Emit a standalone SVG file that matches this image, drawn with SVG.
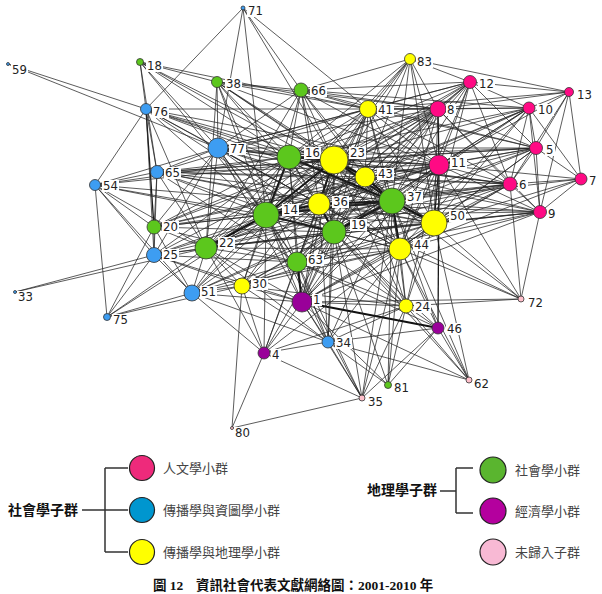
<svg xmlns="http://www.w3.org/2000/svg" width="602" height="594" viewBox="0 0 602 594">
<style>
#edges path{stroke:#262626;stroke-width:.75;fill:none}
#edges path.t{stroke:#111;stroke-width:2}
#edges path.m{stroke:#1a1a1a;stroke-width:1.3}
.nd circle{stroke:#333;stroke-width:.8}
.hu{fill:#ff0a84}.co{fill:#3d9df2}.cg{fill:#ffff00}.so{fill:#5cc71d}.ec{fill:#990099}.un{fill:#ffc0cb}
.nd rect{fill:#fff}
.nd text{font-family:"DejaVu Sans Condensed","DejaVu Sans",sans-serif;font-stretch:condensed;font-size:13px;fill:#222}
.lg circle{stroke:#222;stroke-width:1.2}
.lg path{stroke:#333;stroke-width:1.5;fill:none}
.lt{font-family:"Liberation Serif","Noto Sans CJK TC",serif;font-size:13px;fill:#444}
.lb{font-family:"Liberation Serif","Noto Sans CJK TC",serif;font-size:14px;font-weight:bold;fill:#111}
.cap{font-family:"Liberation Serif","Noto Sans CJK TC",serif;font-size:13.5px;font-weight:bold;fill:#111}
</style>
<g id="edges">
<path class="t" d="M266 215L289 157"/><path class="t" d="M266 215L334 232"/><path class="t" d="M266 215L206 248"/><path class="t" d="M266 215L334 160"/><path class="t" d="M266 215L319 204"/><path class="t" d="M266 215L392 201"/><path d="M266 215L365 177"/><path d="M266 215L400 249"/><path d="M266 215L434 223"/><path d="M266 215L297 262"/><path d="M266 215L302 302"/><path d="M266 215L439 165"/><path d="M266 215L218 148"/><path d="M266 215L368 109"/><path d="M266 215L438 109"/>
<path d="M289 157L334 232"/><path d="M289 157L206 248"/><path class="t" d="M289 157L334 160"/><path d="M289 157L319 204"/><path class="t" d="M289 157L392 201"/><path d="M289 157L365 177"/><path d="M289 157L400 249"/><path d="M289 157L434 223"/><path d="M289 157L297 262"/><path d="M289 157L302 302"/><path d="M289 157L439 165"/><path d="M289 157L218 148"/><path d="M289 157L368 109"/><path d="M289 157L438 109"/>
<path d="M334 232L206 248"/><path d="M334 232L334 160"/><path class="t" d="M334 232L319 204"/><path class="t" d="M334 232L392 201"/><path d="M334 232L365 177"/><path d="M334 232L400 249"/><path d="M334 232L434 223"/><path d="M334 232L297 262"/><path d="M334 232L302 302"/><path d="M334 232L439 165"/><path d="M334 232L218 148"/><path d="M334 232L368 109"/><path d="M334 232L438 109"/>
<path d="M206 248L334 160"/><path d="M206 248L319 204"/><path d="M206 248L392 201"/><path d="M206 248L365 177"/><path d="M206 248L400 249"/><path d="M206 248L434 223"/><path d="M206 248L297 262"/><path d="M206 248L302 302"/><path d="M206 248L439 165"/><path d="M206 248L218 148"/><path d="M206 248L368 109"/><path d="M206 248L438 109"/>
<path class="t" d="M334 160L319 204"/><path class="t" d="M334 160L392 201"/><path class="t" d="M334 160L365 177"/><path d="M334 160L400 249"/><path d="M334 160L434 223"/><path d="M334 160L297 262"/><path d="M334 160L302 302"/><path d="M334 160L439 165"/><path d="M334 160L218 148"/><path d="M334 160L368 109"/><path d="M334 160L438 109"/>
<path class="t" d="M319 204L392 201"/><path d="M319 204L365 177"/><path d="M319 204L400 249"/><path d="M319 204L434 223"/><path d="M319 204L297 262"/><path d="M319 204L302 302"/><path d="M319 204L439 165"/><path d="M319 204L218 148"/><path d="M319 204L368 109"/><path d="M319 204L438 109"/>
<path class="t" d="M392 201L365 177"/><path class="t" d="M392 201L400 249"/><path class="t" d="M392 201L434 223"/><path d="M392 201L297 262"/><path d="M392 201L302 302"/><path d="M392 201L439 165"/><path d="M392 201L218 148"/><path d="M392 201L368 109"/><path d="M392 201L438 109"/>
<path d="M365 177L400 249"/><path d="M365 177L434 223"/><path d="M365 177L297 262"/><path d="M365 177L302 302"/><path d="M365 177L439 165"/><path d="M365 177L218 148"/><path d="M365 177L368 109"/><path d="M365 177L438 109"/>
<path d="M400 249L434 223"/><path d="M400 249L297 262"/><path d="M400 249L302 302"/><path d="M400 249L439 165"/><path d="M400 249L218 148"/><path d="M400 249L368 109"/><path d="M400 249L438 109"/>
<path d="M434 223L297 262"/><path d="M434 223L302 302"/><path class="m" d="M434 223L439 165"/><path d="M434 223L218 148"/><path d="M434 223L368 109"/><path d="M434 223L438 109"/>
<path class="t" d="M297 262L302 302"/><path d="M297 262L439 165"/><path d="M297 262L218 148"/><path d="M297 262L368 109"/><path d="M297 262L438 109"/>
<path d="M302 302L439 165"/><path d="M302 302L218 148"/><path d="M302 302L368 109"/><path d="M302 302L438 109"/>
<path d="M439 165L218 148"/><path d="M439 165L368 109"/><path class="m" d="M439 165L438 109"/><path class="m" d="M439 165L438 328"/>
<path d="M218 148L368 109"/><path d="M218 148L438 109"/><path d="M368 109L438 109"/>
<path d="M470 82L438 109"/><path d="M470 82L439 165"/><path d="M470 82L368 109"/><path d="M470 82L334 160"/><path d="M470 82L289 157"/><path d="M470 82L392 201"/><path d="M470 82L365 177"/><path d="M470 82L434 223"/><path d="M470 82L510 184"/><path d="M470 82L536 148"/><path d="M470 82L529 108"/><path d="M470 82L569 92"/><path d="M470 82L410 59"/><path d="M470 82L301 90"/><path d="M470 82L319 204"/><path d="M470 82L400 249"/><path d="M470 82L334 232"/><path d="M470 82L266 215"/><path d="M470 82L218 148"/>
<path d="M569 92L410 59"/><path d="M569 92L529 108"/><path d="M569 92L536 148"/><path d="M569 92L581 179"/><path d="M569 92L438 109"/><path d="M569 92L439 165"/><path d="M569 92L510 184"/><path d="M569 92L540 212"/><path d="M569 92L368 109"/>
<path d="M529 108L438 109"/><path d="M529 108L439 165"/><path d="M529 108L536 148"/><path d="M529 108L510 184"/><path d="M529 108L540 212"/><path d="M529 108L581 179"/><path d="M529 108L392 201"/><path d="M529 108L365 177"/><path d="M529 108L334 160"/><path d="M529 108L434 223"/><path d="M529 108L400 249"/><path d="M529 108L289 157"/><path d="M529 108L319 204"/><path d="M529 108L368 109"/><path d="M529 108L334 232"/><path d="M529 108L266 215"/><path d="M529 108L301 90"/>
<path d="M536 148L438 109"/><path d="M536 148L439 165"/><path d="M536 148L510 184"/><path d="M536 148L581 179"/><path d="M536 148L540 212"/><path d="M536 148L392 201"/><path d="M536 148L434 223"/><path d="M536 148L365 177"/><path d="M536 148L334 160"/><path d="M536 148L400 249"/><path d="M536 148L319 204"/><path d="M536 148L289 157"/><path d="M536 148L368 109"/><path d="M536 148L218 148"/><path d="M536 148L334 232"/><path d="M536 148L301 90"/>
<path d="M510 184L439 165"/><path d="M510 184L438 109"/><path d="M510 184L581 179"/><path d="M510 184L540 212"/><path d="M510 184L392 201"/><path d="M510 184L434 223"/><path d="M510 184L400 249"/><path d="M510 184L365 177"/><path d="M510 184L334 160"/><path d="M510 184L319 204"/><path d="M510 184L334 232"/><path d="M510 184L266 215"/><path d="M510 184L521 299"/><path d="M510 184L368 109"/><path d="M510 184L218 148"/><path d="M510 184L206 248"/><path d="M510 184L297 262"/><path d="M510 184L302 302"/><path d="M510 184L289 157"/>
<path d="M581 179L540 212"/><path d="M581 179L434 223"/><path d="M581 179L392 201"/><path d="M581 179L400 249"/><path d="M581 179L439 165"/>
<path d="M540 212L434 223"/><path d="M540 212L392 201"/><path d="M540 212L400 249"/><path d="M540 212L521 299"/><path d="M540 212L365 177"/><path d="M540 212L319 204"/><path d="M540 212L334 232"/><path d="M540 212L334 160"/><path d="M540 212L439 165"/><path d="M540 212L438 109"/><path d="M540 212L266 215"/><path d="M540 212L206 248"/><path d="M540 212L302 302"/><path d="M540 212L297 262"/>
<path d="M410 59L301 90"/><path d="M410 59L368 109"/><path d="M410 59L438 109"/><path d="M410 59L439 165"/><path d="M410 59L334 160"/><path d="M410 59L289 157"/><path d="M410 59L365 177"/><path d="M410 59L392 201"/><path d="M410 59L319 204"/><path d="M410 59L434 223"/><path d="M410 59L266 215"/>
<path d="M301 90L217 82"/><path d="M301 90L289 157"/><path d="M301 90L334 160"/><path d="M301 90L266 215"/><path d="M301 90L368 109"/><path d="M301 90L218 148"/><path d="M301 90L392 201"/><path d="M301 90L365 177"/><path d="M301 90L319 204"/><path d="M301 90L334 232"/><path d="M301 90L206 248"/><path d="M301 90L438 109"/><path d="M301 90L439 165"/>
<path d="M217 82L140 62"/><path d="M217 82L218 148"/><path d="M217 82L266 215"/><path d="M217 82L289 157"/><path d="M217 82L334 160"/><path d="M217 82L368 109"/><path d="M217 82L392 201"/><path d="M217 82L206 248"/><path d="M217 82L365 177"/><path d="M217 82L319 204"/><path d="M217 82L297 262"/><path d="M217 82L438 109"/><path d="M217 82L439 165"/>
<path d="M243 8L146 109"/><path d="M243 8L218 148"/><path d="M243 8L266 215"/><path d="M243 8L301 90"/><path d="M243 8L334 160"/><path d="M243 8L368 109"/>
<path d="M140 62L146 109"/><path d="M140 62L157 172"/><path d="M140 62L289 157"/><path d="M140 62L334 160"/><path d="M140 62L266 215"/><path d="M140 62L368 109"/><path d="M140 62L218 148"/><path d="M140 62L392 201"/>
<path d="M8 64L146 109"/><path d="M8 64L218 148"/>
<path d="M146 109L218 148"/><path d="M146 109L157 172"/><path class="m" d="M146 109L154 227"/><path d="M146 109L154 255"/><path d="M146 109L95 185"/><path d="M146 109L266 215"/><path d="M146 109L289 157"/><path d="M146 109L206 248"/><path d="M146 109L334 160"/><path d="M146 109L392 201"/><path d="M146 109L319 204"/><path d="M146 109L334 232"/><path d="M146 109L365 177"/><path d="M146 109L439 165"/><path d="M146 109L438 109"/>
<path d="M95 185L157 172"/><path d="M95 185L218 148"/><path d="M95 185L154 227"/><path d="M95 185L154 255"/><path d="M95 185L107 317"/><path d="M95 185L266 215"/><path d="M95 185L206 248"/><path d="M95 185L289 157"/><path d="M95 185L192 293"/><path d="M95 185L334 160"/><path d="M95 185L334 232"/><path d="M95 185L319 204"/>
<path d="M157 172L218 148"/><path d="M157 172L154 227"/><path d="M157 172L154 255"/><path d="M157 172L266 215"/><path d="M157 172L289 157"/><path d="M157 172L206 248"/><path d="M157 172L334 160"/><path d="M157 172L392 201"/><path d="M157 172L319 204"/><path d="M157 172L334 232"/><path d="M157 172L365 177"/><path d="M157 172L297 262"/><path d="M157 172L434 223"/><path d="M157 172L439 165"/><path d="M157 172L368 109"/><path d="M157 172L510 184"/><path d="M157 172L536 148"/>
<path d="M154 227L154 255"/><path d="M154 227L206 248"/><path d="M154 227L266 215"/><path d="M154 227L289 157"/><path d="M154 227L334 160"/><path d="M154 227L392 201"/><path d="M154 227L319 204"/><path d="M154 227L334 232"/><path d="M154 227L218 148"/><path d="M154 227L297 262"/><path d="M154 227L192 293"/><path d="M154 227L365 177"/><path d="M154 227L439 165"/><path d="M154 227L438 109"/>
<path d="M154 255L206 248"/><path d="M154 255L192 293"/><path d="M154 255L266 215"/><path d="M154 255L289 157"/><path d="M154 255L334 160"/><path d="M154 255L392 201"/><path d="M154 255L334 232"/><path d="M154 255L319 204"/><path d="M154 255L297 262"/><path d="M154 255L242 286"/><path d="M154 255L302 302"/><path d="M154 255L218 148"/>
<path d="M15 292L154 255"/><path d="M15 292L206 248"/>
<path d="M107 317L154 255"/><path d="M107 317L154 227"/><path d="M107 317L206 248"/><path d="M107 317L192 293"/><path d="M107 317L266 215"/><path d="M107 317L242 286"/>
<path d="M192 293L206 248"/><path d="M192 293L242 286"/><path d="M192 293L266 215"/><path d="M192 293L334 232"/><path d="M192 293L297 262"/><path d="M192 293L302 302"/><path d="M192 293L319 204"/><path d="M192 293L392 201"/><path d="M192 293L334 160"/><path d="M192 293L264 353"/><path d="M192 293L328 342"/><path d="M192 293L400 249"/><path d="M192 293L289 157"/>
<path d="M242 286L206 248"/><path d="M242 286L297 262"/><path d="M242 286L302 302"/><path d="M242 286L266 215"/><path d="M242 286L334 232"/><path d="M242 286L319 204"/><path d="M242 286L392 201"/><path d="M242 286L334 160"/><path d="M242 286L264 353"/><path d="M242 286L328 342"/><path d="M242 286L232 428"/><path d="M242 286L400 249"/><path d="M242 286L434 223"/><path d="M242 286L406 306"/><path d="M242 286L289 157"/>
<path d="M406 306L400 249"/><path d="M406 306L434 223"/><path d="M406 306L392 201"/><path d="M406 306L334 232"/><path d="M406 306L319 204"/><path d="M406 306L297 262"/><path d="M406 306L302 302"/><path d="M406 306L438 328"/><path d="M406 306L328 342"/><path d="M406 306L362 398"/><path d="M406 306L388 385"/><path d="M406 306L469 380"/><path d="M406 306L266 215"/><path d="M406 306L334 160"/><path d="M406 306L365 177"/><path d="M406 306L439 165"/><path d="M406 306L521 299"/>
<path class="t" d="M438 328L302 302"/><path d="M438 328L400 249"/><path d="M438 328L392 201"/><path d="M438 328L334 232"/><path d="M438 328L469 380"/><path d="M438 328L388 385"/><path d="M438 328L362 398"/><path d="M438 328L328 342"/><path d="M438 328L297 262"/>
<path d="M328 342L302 302"/><path d="M328 342L297 262"/><path d="M328 342L334 232"/><path d="M328 342L400 249"/><path d="M328 342L319 204"/><path d="M328 342L362 398"/><path d="M328 342L388 385"/><path d="M328 342L469 380"/><path d="M328 342L264 353"/><path d="M328 342L266 215"/><path d="M328 342L206 248"/><path d="M328 342L392 201"/><path d="M328 342L334 160"/>
<path d="M264 353L302 302"/><path d="M264 353L297 262"/><path d="M264 353L206 248"/><path d="M264 353L266 215"/><path d="M264 353L334 232"/><path d="M264 353L362 398"/><path d="M264 353L400 249"/><path d="M264 353L406 306"/><path d="M264 353L232 428"/><path d="M264 353L319 204"/>
<path d="M362 398L302 302"/><path d="M362 398L400 249"/><path d="M362 398L297 262"/><path d="M362 398L334 232"/><path d="M362 398L232 428"/><path d="M362 398L266 215"/><path d="M362 398L392 201"/>
<path d="M388 385L400 249"/><path d="M388 385L334 232"/><path d="M388 385L302 302"/><path d="M388 385L392 201"/>
<path d="M469 380L434 223"/><path d="M469 380L400 249"/><path d="M469 380L302 302"/><path d="M469 380L334 232"/><path d="M469 380L392 201"/>
<path d="M521 299L434 223"/><path d="M521 299L400 249"/><path d="M521 299L392 201"/><path d="M521 299L439 165"/><path d="M521 299L319 204"/><path d="M521 299L302 302"/>
</g>
<g id="nodes">
<g id="n71" class="nd"><circle class="co" cx="243" cy="8" r="2"/><rect x="247" y="5" width="17" height="12"/><text x="248" y="15">71</text></g>
<g id="n59" class="nd"><circle class="co" cx="8" cy="64" r="1.5"/><rect x="11" y="64" width="17" height="12"/><text x="12" y="74">59</text></g>
<g id="n18" class="nd"><circle class="so" cx="140" cy="62" r="3.5"/><rect x="146" y="60" width="17" height="12"/><text x="147" y="70">18</text></g>
<g id="n38" class="nd"><circle class="so" cx="217" cy="82" r="5.5"/><rect x="225" y="78" width="17" height="12"/><text x="226" y="88">38</text></g>
<g id="n66" class="nd"><circle class="so" cx="301" cy="90" r="7"/><rect x="310" y="85" width="17" height="12"/><text x="311" y="95">66</text></g>
<g id="n83" class="nd"><circle class="cg" cx="410" cy="59" r="5.5"/><rect x="416" y="56" width="17" height="12"/><text x="417" y="66">83</text></g>
<g id="n12" class="nd"><circle class="hu" cx="470" cy="82" r="6.5"/><rect x="478" y="78" width="17" height="12"/><text x="479" y="88">12</text></g>
<g id="n13" class="nd"><circle class="hu" cx="569" cy="92" r="4.5"/><rect x="576" y="89" width="17" height="12"/><text x="577" y="99">13</text></g>
<g id="n41" class="nd"><circle class="cg" cx="368" cy="109" r="8.5"/><rect x="377" y="104" width="17" height="12"/><text x="378" y="114">41</text></g>
<g id="n8" class="nd"><circle class="hu" cx="438" cy="109" r="8"/><rect x="446" y="104" width="10" height="12"/><text x="447" y="114">8</text></g>
<g id="n10" class="nd"><circle class="hu" cx="529" cy="108" r="6"/><rect x="537" y="104" width="17" height="12"/><text x="538" y="114">10</text></g>
<g id="n76" class="nd"><circle class="co" cx="146" cy="109" r="5.5"/><rect x="152" y="106" width="17" height="12"/><text x="153" y="116">76</text></g>
<g id="n77" class="nd"><circle class="co" cx="218" cy="148" r="10"/><rect x="229" y="143" width="17" height="12"/><text x="230" y="153">77</text></g>
<g id="n16" class="nd"><circle class="so" cx="289" cy="157" r="12"/><rect x="304" y="147" width="17" height="12"/><text x="305" y="157">16</text></g>
<g id="n23" class="nd"><circle class="cg" cx="334" cy="160" r="14"/><rect x="349" y="147" width="17" height="12"/><text x="350" y="157">23</text></g>
<g id="n5" class="nd"><circle class="hu" cx="536" cy="148" r="6.5"/><rect x="545" y="144" width="10" height="12"/><text x="546" y="154">5</text></g>
<g id="n43" class="nd"><circle class="cg" cx="365" cy="177" r="10"/><rect x="377" y="168" width="17" height="12"/><text x="378" y="178">43</text></g>
<g id="n11" class="nd"><circle class="hu" cx="439" cy="165" r="10"/><rect x="450" y="157" width="17" height="12"/><text x="451" y="167">11</text></g>
<g id="n65" class="nd"><circle class="co" cx="157" cy="172" r="6.5"/><rect x="164" y="167" width="17" height="12"/><text x="165" y="177">65</text></g>
<g id="n54" class="nd"><circle class="co" cx="95" cy="185" r="5.5"/><rect x="102" y="180" width="17" height="12"/><text x="103" y="190">54</text></g>
<g id="n6" class="nd"><circle class="hu" cx="510" cy="184" r="7"/><rect x="518" y="179" width="10" height="12"/><text x="519" y="189">6</text></g>
<g id="n7" class="nd"><circle class="hu" cx="581" cy="179" r="6"/><rect x="588" y="175" width="10" height="12"/><text x="589" y="185">7</text></g>
<g id="n37" class="nd"><circle class="so" cx="392" cy="201" r="13"/><rect x="406" y="191" width="17" height="12"/><text x="407" y="201">37</text></g>
<g id="n50" class="nd"><circle class="cg" cx="434" cy="223" r="13"/><rect x="449" y="210" width="17" height="12"/><text x="450" y="220">50</text></g>
<g id="n9" class="nd"><circle class="hu" cx="540" cy="212" r="6.5"/><rect x="547" y="208" width="10" height="12"/><text x="548" y="218">9</text></g>
<g id="n14" class="nd"><circle class="so" cx="266" cy="215" r="13"/><rect x="282" y="204" width="17" height="12"/><text x="283" y="214">14</text></g>
<g id="n36" class="nd"><circle class="cg" cx="319" cy="204" r="11"/><rect x="332" y="196" width="17" height="12"/><text x="333" y="206">36</text></g>
<g id="n19" class="nd"><circle class="so" cx="334" cy="232" r="12"/><rect x="350" y="219" width="17" height="12"/><text x="351" y="229">19</text></g>
<g id="n44" class="nd"><circle class="cg" cx="400" cy="249" r="11"/><rect x="413" y="239" width="17" height="12"/><text x="414" y="249">44</text></g>
<g id="n20" class="nd"><circle class="so" cx="154" cy="227" r="7"/><rect x="162" y="221" width="17" height="12"/><text x="163" y="231">20</text></g>
<g id="n22" class="nd"><circle class="so" cx="206" cy="248" r="11"/><rect x="218" y="237" width="17" height="12"/><text x="219" y="247">22</text></g>
<g id="n25" class="nd"><circle class="co" cx="154" cy="255" r="7.5"/><rect x="162" y="249" width="17" height="12"/><text x="163" y="259">25</text></g>
<g id="n63" class="nd"><circle class="so" cx="297" cy="262" r="10"/><rect x="307" y="254" width="17" height="12"/><text x="308" y="264">63</text></g>
<g id="n30" class="nd"><circle class="cg" cx="242" cy="286" r="8"/><rect x="251" y="278" width="17" height="12"/><text x="252" y="288">30</text></g>
<g id="n51" class="nd"><circle class="co" cx="192" cy="293" r="8"/><rect x="200" y="286" width="17" height="12"/><text x="201" y="296">51</text></g>
<g id="n1" class="nd"><circle class="ec" cx="302" cy="302" r="10"/><rect x="312" y="294" width="10" height="12"/><text x="313" y="304">1</text></g>
<g id="n24" class="nd"><circle class="cg" cx="406" cy="306" r="7"/><rect x="414" y="301" width="17" height="12"/><text x="415" y="311">24</text></g>
<g id="n72" class="nd"><circle class="un" cx="521" cy="299" r="3"/><rect x="527" y="297" width="17" height="12"/><text x="528" y="307">72</text></g>
<g id="n33" class="nd"><circle class="co" cx="15" cy="292" r="1.5"/><rect x="17" y="291" width="17" height="12"/><text x="18" y="301">33</text></g>
<g id="n75" class="nd"><circle class="co" cx="107" cy="317" r="3.5"/><rect x="112" y="314" width="17" height="12"/><text x="113" y="324">75</text></g>
<g id="n46" class="nd"><circle class="ec" cx="438" cy="328" r="6"/><rect x="446" y="323" width="17" height="12"/><text x="447" y="333">46</text></g>
<g id="n34" class="nd"><circle class="co" cx="328" cy="342" r="6"/><rect x="335" y="337" width="17" height="12"/><text x="336" y="347">34</text></g>
<g id="n4" class="nd"><circle class="ec" cx="264" cy="353" r="6"/><rect x="271" y="349" width="10" height="12"/><text x="272" y="359">4</text></g>
<g id="n81" class="nd"><circle class="so" cx="388" cy="385" r="3.5"/><rect x="393" y="382" width="17" height="12"/><text x="394" y="392">81</text></g>
<g id="n62" class="nd"><circle class="un" cx="469" cy="380" r="3"/><rect x="473" y="378" width="17" height="12"/><text x="474" y="388">62</text></g>
<g id="n35" class="nd"><circle class="un" cx="362" cy="398" r="3"/><rect x="367" y="396" width="17" height="12"/><text x="368" y="406">35</text></g>
<g id="n80" class="nd"><circle class="un" cx="232" cy="428" r="1.5"/><rect x="234" y="427" width="17" height="12"/><text x="235" y="437">80</text></g>
</g>
<g id="legend" class="lg">
<text class="lb" x="8" y="515">社會學子群</text>
<path d="M82 510H128M105 468V552M105 468H128M105 552H128"/>
<circle cx="142" cy="468" r="12.5" fill="#ee2a7b"/>
<circle cx="142" cy="510" r="12.5" fill="#0096cf"/>
<circle cx="142" cy="552" r="12.5" fill="#ffff00"/>
<text class="lt" x="163" y="473">人文學小群</text>
<text class="lt" x="163" y="515">傳播學與資圖學小群</text>
<text class="lt" x="163" y="557">傳播學與地理學小群</text>
<text class="lb" x="367" y="495">地理學子群</text>
<path d="M440 491H456M456 468V513M456 468H473M456 513H473"/>
<circle cx="493" cy="470" r="13" fill="#5ab52f"/>
<circle cx="493" cy="511" r="13" fill="#b4009e"/>
<circle cx="493" cy="552" r="13" fill="#f8b9d4"/>
<text class="lt" x="515" y="475">社會學小群</text>
<text class="lt" x="515" y="516">經濟學小群</text>
<text class="lt" x="515" y="557">未歸入子群</text>
</g>
<g id="caption">
<text class="cap" x="153" y="590">圖 12</text>
<text class="cap" x="196" y="590">資訊社會代表文獻網絡圖：2001-2010 年</text>
</g>
</svg>
